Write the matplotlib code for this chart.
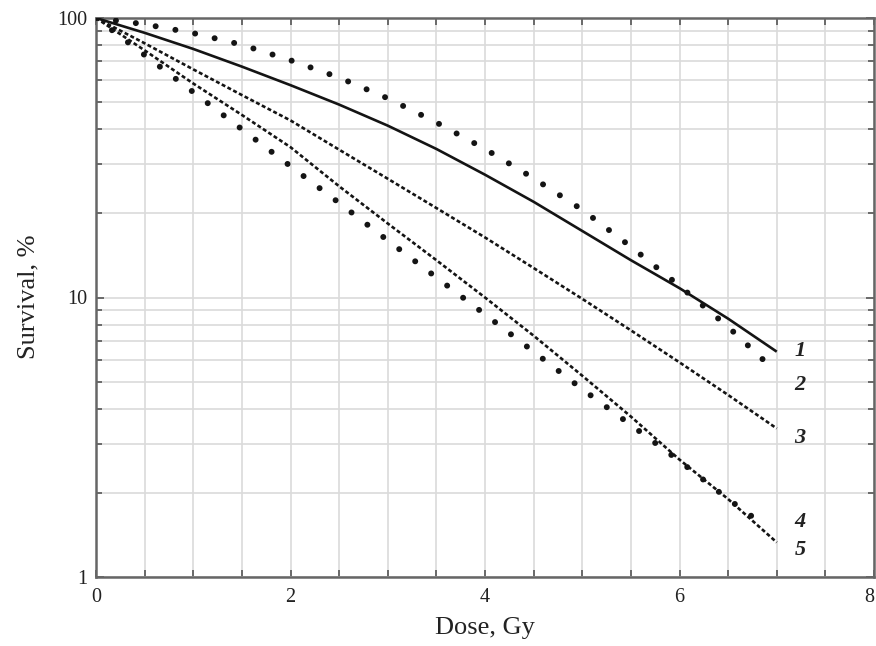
import numpy as np
import matplotlib
matplotlib.use("Agg")
import matplotlib.pyplot as plt
from matplotlib.ticker import FixedLocator, NullFormatter, FixedFormatter

# ---- data ----
dose = [0, 0.5, 1.0, 1.5, 2.0, 2.5, 3.0, 3.5, 4.0, 4.5, 5.0, 5.5, 6.0, 6.5, 7.0]
curve1 = [100, 88.5, 77.5, 67.0, 57.5, 49.0, 41.2, 34.0, 27.5, 22.0, 17.3, 13.6, 10.8, 8.4, 6.4]
dose2 = [0, 0.5, 1.0, 1.5, 2.0, 2.5, 3.0, 3.5, 4.0, 4.5, 5.0, 5.5, 6.0, 6.5, 6.95]
curve2 = [100, 95.0, 88.3, 80.2, 70.6, 61.2, 51.6, 42.3, 34.0, 26.7, 20.6, 15.2, 11.0, 7.85, 5.6]
curve3 = [100, 81.2, 65.5, 53.0, 43.0, 33.8, 26.6, 20.9, 16.4, 12.75, 9.89, 7.63, 5.86, 4.48, 3.4]
dose4 = [0, 0.5, 1.0, 1.5, 2.0, 2.5, 3.0, 3.5, 4.0, 4.5, 5.0, 5.5, 6.0, 6.5, 6.85]
curve4 = [100, 73.7, 54.3, 40.0, 29.5, 21.8, 16.0, 11.8, 8.7, 6.4, 4.7, 3.5, 2.6, 1.9, 1.55]
curve5 = [100, 76.6, 58.3, 45.0, 34.5, 25.0, 18.4, 13.6, 10.0, 7.3, 5.25, 3.75, 2.63, 1.9, 1.33]

curve_labels = ["1", "2", "3", "4", "5"]
label_pos_y = [6.45, 4.86, 3.14, 1.57, 1.25]
label_pos_x = 7.24

x_major = [0, 2, 4, 6, 8]
y_ticks = [1, 10, 100]
y_ticklabels = ["1", "10", "100"]

plt.rcParams['font.family'] = ['Liberation Serif', 'DejaVu Serif']

fig = plt.figure(figsize=(8.76, 6.46), dpi=100)
ax = fig.add_axes([96/876, 1 - 577/646, (874 - 96)/876, (577 - 18)/646])

ax.set_yscale('log')
ax.set_xlim(0, 8)
ax.set_ylim(1, 100)

ink = '#141414'
ax.plot(dose, curve1, color=ink, lw=1.9, solid_capstyle='butt', zorder=3)
ax.plot(dose2, curve2, color=ink, lw=4.3, linestyle=(0, (0.01, 3.35)),
        dash_capstyle='round', zorder=3)
ax.plot(dose, curve3, color=ink, lw=1.9, linestyle=(0, (1.5, 0.95)), zorder=3)
ax.plot(dose4, curve4, color=ink, lw=4.3, linestyle=(0, (0.01, 3.35)),
        dash_capstyle='round', zorder=3)
ax.plot(dose, curve5, color=ink, lw=1.9, linestyle=(0, (1.5, 0.95)), zorder=3)

for lab, yv in zip(curve_labels, label_pos_y):
    ax.text(label_pos_x, yv, lab, fontsize=16, fontstyle='italic', fontweight='bold',
            ha='center', va='center', color='#222222')

# ticks
ax.xaxis.set_major_locator(FixedLocator(x_major))
ax.xaxis.set_minor_locator(FixedLocator(np.arange(0, 8.01, 0.5)))
ax.yaxis.set_major_locator(FixedLocator(y_ticks))
ax.yaxis.set_major_formatter(FixedFormatter(y_ticklabels))
minor_y = [m * 10**k for k in (0, 1) for m in range(2, 10)]
ax.yaxis.set_minor_locator(FixedLocator(minor_y))
ax.yaxis.set_minor_formatter(NullFormatter())

ax.tick_params(axis='both', which='both', direction='in', top=True, right=True,
               colors='#555555', labelcolor='#222222', labelsize=14.5)
ax.tick_params(axis='x', which='major', length=5, width=1.2, pad=8)
ax.tick_params(axis='x', which='minor', length=5, width=1.2)
ax.tick_params(axis='y', which='major', length=6, width=1.2, pad=6)
ax.tick_params(axis='y', which='minor', length=4, width=1.2)

ax.grid(True, which='both', color='#dadada', lw=1.2, zorder=0)
ax.set_axisbelow(True)

for s in ax.spines.values():
    s.set_color('#666666')
    s.set_linewidth(1.8)

fig.canvas.draw()
xt = ax.get_xticklabels()
xt[-1].set_horizontalalignment('right')

fig.text(485/876, 1 - 628/646, 'Dose, Gy', fontsize=19, color='#222222',
         ha='center', va='center')
fig.text(28/876, 1 - 297/646, 'Survival, %', fontsize=19, color='#222222',
         ha='center', va='center', rotation=90)

fig.savefig('out.png', dpi=100)
